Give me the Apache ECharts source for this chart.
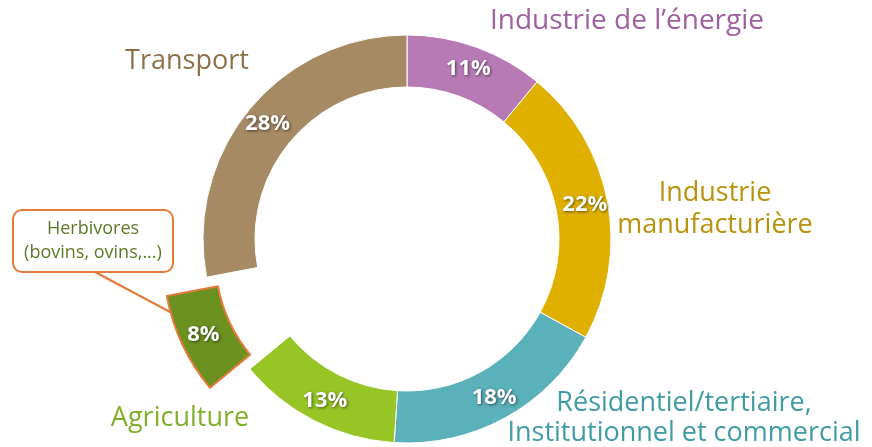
<!DOCTYPE html>
<html>
<head>
<meta charset="utf-8">
<script src="https://cdn.jsdelivr.net/npm/echarts@6/dist/echarts.min.js"></script>
<style>
  html, body { margin: 0; padding: 0; background: #fff; }
  #chart { width: 872px; height: 447px; }
</style>
</head>
<body>
<div id="chart"></div>
<script>
// données (ordre horaire depuis midi)
var categories = ['Industrie de l\u2019énergie', 'Industrie manufacturière', 'Résidentiel/tertiaire, Institutionnel et commercial', 'Agriculture', 'Herbivores', 'Transport'];
var values = [11, 22, 18, 13, 8, 28];
var sliceColors = ['#B77AB5', '#DFB000', '#5AB1BA', '#97C526', '#6B9120', '#A68A64'];
var textColors = ['#A060A0', '#B8920C', '#3F9BA5', '#7FB02A', '#5B7A25', '#8C7148'];

var myChart = echarts.init(document.getElementById('chart'));

var data = categories.map(function (name, i) {
    var item = {
        name: name,
        value: values[i],
        itemStyle: { color: sliceColors[i], borderColor: '#fff', borderWidth: 1 }
    };
    if (name === 'Herbivores') {
        item.selected = true;
        item.itemStyle = { color: sliceColors[i], borderColor: '#E57A3A', borderWidth: 2 };
        item.select = { itemStyle: { color: sliceColors[i], borderColor: '#E57A3A', borderWidth: 2 } };
    }
    return item;
});

var nameFont = '27px "Open Sans", Lato, sans-serif';

var option = {
    animation: false,
    series: [
        {
            type: 'pie',
            center: [407, 239],
            radius: [152, 204],
            startAngle: 90,
            clockwise: true,
            selectedMode: 'single',
            selectedOffset: 44,
            avoidLabelOverlap: false,
            label: {
                show: true,
                position: 'inside',
                formatter: '{c}%',
                color: '#fff',
                fontFamily: '"Open Sans", sans-serif',
                fontWeight: 'bold',
                fontSize: 22,
                textShadowColor: 'rgba(0,0,0,0.55)',
                textShadowBlur: 3,
                textShadowOffsetX: 1,
                textShadowOffsetY: 1
            },
            labelLine: { show: false },
            emphasis: { disabled: true },
            data: data
        }
    ],
    graphic: [
        { type: 'text', x: 627, y: 21, style: { text: categories[0], font: '28px "Open Sans", Lato, sans-serif', fill: textColors[0], textAlign: 'center', textVerticalAlign: 'middle' } },
        { type: 'text', x: 715, y: 209, style: { text: 'Industrie\nmanufacturière', font: nameFont, lineHeight: 32, fill: textColors[1], textAlign: 'center', textVerticalAlign: 'middle' } },
        { type: 'text', x: 684, y: 418, style: { text: 'Résidentiel/tertiaire,\nInstitutionnel et commercial', font: nameFont, lineHeight: 30, fill: textColors[2], textAlign: 'center', textVerticalAlign: 'middle' } },
        { type: 'text', x: 180, y: 418, style: { text: categories[3], font: nameFont, fill: textColors[3], textAlign: 'center', textVerticalAlign: 'middle' } },
        { type: 'text', x: 187, y: 61, style: { text: categories[5], font: nameFont, fill: textColors[5], textAlign: 'center', textVerticalAlign: 'middle' } },
        // bulle Herbivores
        { type: 'line', z: 0, shape: { x1: 95, y1: 272, x2: 172, y2: 313 }, style: { stroke: '#E57A3A', lineWidth: 2 } },
        { type: 'rect', shape: { x: 13, y: 210, width: 160, height: 62, r: 9 }, style: { fill: '#fff', stroke: '#E57A3A', lineWidth: 2 } },
        { type: 'text', x: 93, y: 241, style: { text: 'Herbivores\n(bovins, ovins,...)', font: '18px "Open Sans", Lato, sans-serif', lineHeight: 24, fill: textColors[4], textAlign: 'center', textVerticalAlign: 'middle' } }
    ]
};

myChart.setOption(option);
window.addEventListener('resize', function () {
    myChart.resize();
});
</script>
</body>
</html>
